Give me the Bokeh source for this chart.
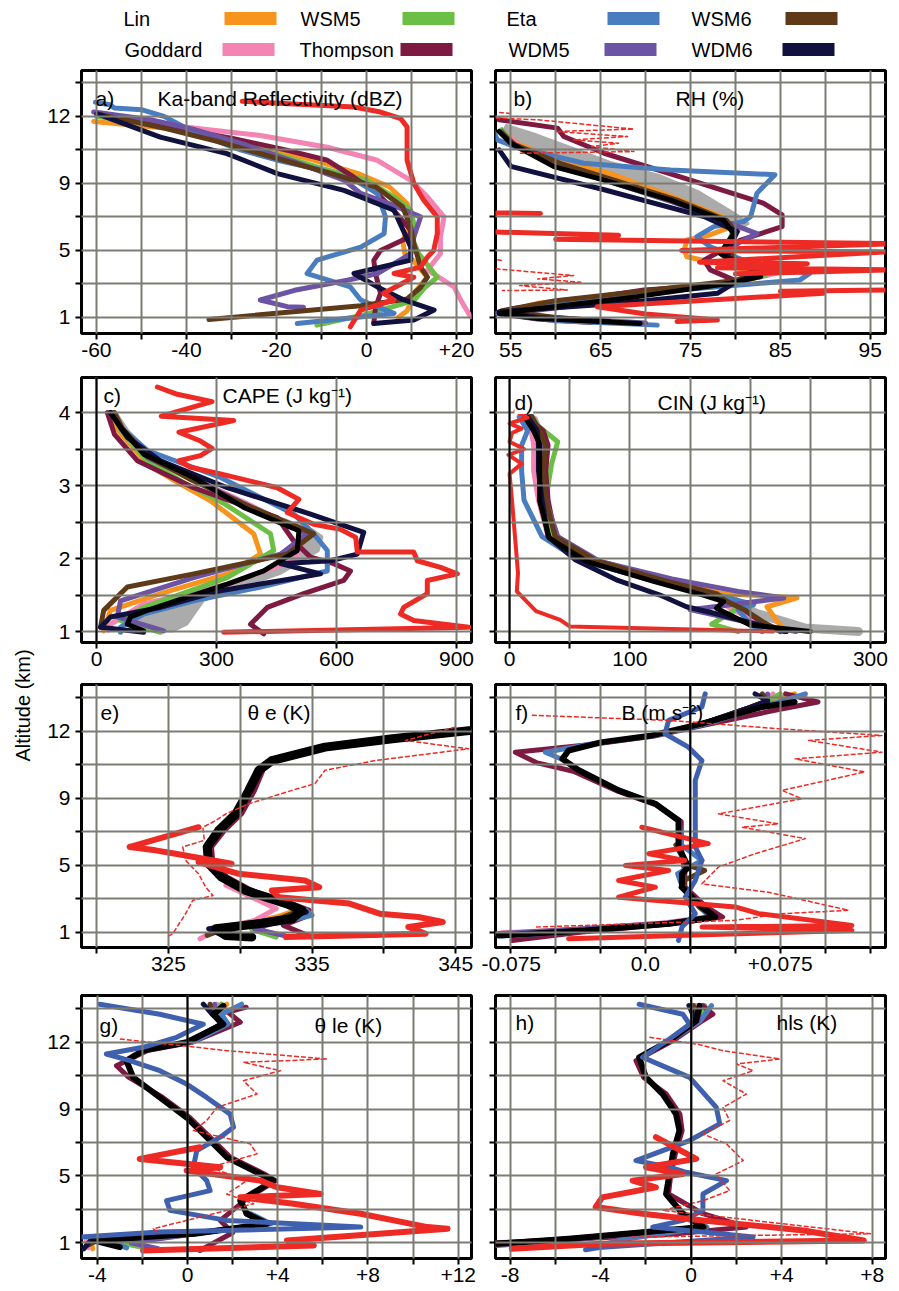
import math
import numpy as np
from bokeh.plotting import figure
from bokeh.layouts import row, column
from bokeh.models import FixedTicker, Label, Span, Range1d
from bokeh.embed import file_html
from bokeh.resources import INLINE
from bokeh.core.properties import value

nan = float("nan")
FONT = "Liberation Sans"

MODELS = ["Lin", "WSM5", "Eta", "WSM6", "Goddard", "Thompson", "WDM5", "WDM6"]
COLORS = ["#f7941d", "#6cbf45", "#4a7dc0", "#5e3a18", "#f384b4", "#7e1a42", "#6c53a3", "#111140"]
MC = dict(zip(MODELS, COLORS))
DRAW_ORDER = ["Lin", "Goddard", "WSM5", "Thompson", "Eta", "WDM5", "WSM6", "WDM6"]
RED = "#ee2a24"
BLUE2 = "#3e60ae"
GRAY = "#ababab"

# level axis (plotted level index -> altitude label in km)
lev_ticks = [0, 1, 2, 3, 4, 5, 6, 7]
lev_labels = {0: "1", 2: "5", 4: "9", 6: "12"}
km_ticks = [1, 1.5, 2, 2.5, 3, 3.5, 4]
km_labels = {1: "1", 2: "2", 3: "3", 4: "4"}

# ---------------- a) Ka-band reflectivity (dBZ) ----------------
a_x = {
    "Lin":      [-60.6, -45, -35, -25, -12, -2, 5, 9, 10, 8, 8.5, 10, 13.5, 11, 9, 7],
    "Goddard":  [-59, -48, -37, -23.6, -8.7, 2.4, 9.8, 13.5, 17.2, 16.4, 16.4, 13.5, 16, 19.4, 21, 23.1],
    "WSM5":     [-60, -45, -33, -22, -10, 0, 6, 9.8, 10.5, 10, 11.6, 15.7, 13, 10.5, 0, -11],
    "Thompson": [-59, -45, -30, -18, -8.7, -3, 2.4, 6, 9.8, 9.5, 3.1, 1.6, 2.0, 3.1, 2.0, 1.6],
    "Eta":      [-60.2, -57, -56, -50, -45, -40, -35, -28, -20, -10, -2, 2.4, 4.2, 3.9, -1.3, -11, -13.2, -3.6, -1.3, 6.1, -15.4],
    "WDM5":     [-60.6, -48, -38, -28, -15, -5, -1.3, 5, 12, 10.5, 9.8, 2.4, -4.3, -16, -23.6, -17.6, -14],
    "WSM6":     [-59, -45, -33, -20, -8, 2, 8, 9.8, 10.5, 12, 13.5, 12, 9, -1.3, -35],
    "WDM6":     [-59.9, -45.8, -31, -19.8, -5, 6.1, 9.8, 9.8, -2.8, 2.4, 8.3, 15, 10.5, 1.6],
}
a_y = {
    "Lin":      [5.85, 5.65, 5.45, 5.15, 4.7, 4.3, 3.9, 3.4, 2.8, 2.3, 1.9, 1.75, 1.2, 0.8, 0.2, 0.0],
    "Goddard":  [6.1, 5.8, 5.63, 5.43, 5.08, 4.69, 4.09, 3.6, 3.0, 2.4, 1.9, 1.41, 1.2, 0.91, 0.5, 0.02],
    "WSM5":     [6.0, 5.7, 5.4, 4.95, 4.45, 4.1, 3.6, 3.2, 2.8, 2.4, 1.9, 1.2, 0.9, 0.5, 0.1, -0.23],
    "Thompson": [6.05, 5.7, 5.35, 5.0, 4.69, 4.2, 3.7, 3.2, 2.6, 2.4, 2.0, 1.7, 1.3, 0.72, 0.3, -0.18],
    "Eta":      [6.42, 6.35, 6.25, 6.2, 6.0, 5.65, 5.35, 5.0, 4.7, 4.4, 4.05, 3.7, 3.0, 2.5, 2.1, 1.71, 1.31, 0.91, 0.52, 0.12, -0.18],
    "WDM5":     [6.13, 5.9, 5.6, 5.2, 4.6, 4.1, 3.7, 3.4, 3.0, 2.4, 1.9, 1.31, 1.11, 0.81, 0.52, 0.32, 0.3],
    "WSM6":     [6.05, 5.65, 5.25, 4.75, 4.3, 3.9, 3.3, 2.7, 2.2, 1.5, 1.2, 0.9, 0.55, 0.35, -0.06],
    "WDM6":     [6.08, 5.38, 4.89, 4.29, 3.79, 3.2, 2.1, 1.71, 1.31, 0.91, 0.52, 0.22, -0.08, -0.18],
}
a_red_x = [-27.6, -2.8, 3.1, 7.6, 9.0, 9.0, 10.5, 12.7, 15.7, 15.7, 14.9, 13.5, 12.0, 6.1, 10.5, 3.8, 6.1, -1.3, -3.6]
a_red_y = [6.45, 6.28, 6.13, 5.93, 5.68, 4.69, 4.0, 3.5, 3.0, 2.5, 2.0, 1.8, 1.5, 1.31, 1.2, 0.72, 0.52, 0.22, -0.28]

# ---------------- b) RH (%) ----------------
b_x = {
    "Lin":      [54, 56, 61, 66, 73, 78.5, 79.5, 77, 74.6, 74.3, 74.6, 81.3, 82.8, 78.7, 68, 58, 54, 60, 66],
    "Goddard":  [54, 56, 61, 66, 73, 78, 80.3, 79, 78.7, 82, 85.7, 83.5, 80, 70, 62, 56, 54, 62, 69],
    "WSM5":     [54, 55.5, 60.5, 66, 73, 78.8, 79.7, 79, 79.5, 82, 83.3, 80, 69, 58, 54, 62, 70],
    "Thompson": [53.7, 60.2, 60.9, 65.4, 74.3, 83.1, 85.2, 85.2, 82.8, 80.6, 76.5, 77.2, 79.8, 80.2, 69.8, 61.3, 55.0, 53.4, 58, 64],
    "Eta":      [53.1, 53.5, 55.4, 63.1, 72.8, 84.4, 82.4, 81.7, 80.9, 77.6, 75.7, 77.2, 80, 82.8, 88.3, 87.2, 82.8, 72, 60, 53.4, 60, 71.3],
    "WDM5":     [54, 55.2, 60, 66, 73, 78, 82.4, 80.5, 79, 80, 82.5, 80, 70, 62, 56, 54, 63, 70],
    "WSM6":     [54, 55.5, 60.5, 66.5, 73.5, 79, 80, 79, 80.5, 82.5, 80, 70, 60, 54, 60, 65],
    "WDM6":     [53.7, 55.0, 65.4, 76.5, 80.2, 79.4, 79.1, 82.8, 80, 78.0, 67.2, 53.7, 58, 66],
}
b_y = {
    "Lin":      [5.55, 5.15, 4.65, 4.3, 3.6, 3.0, 2.7, 2.45, 2.31, 2.01, 1.81, 1.42, 1.22, 0.97, 0.72, 0.42, 0.15, -0.02, -0.12],
    "Goddard":  [5.6, 5.1, 4.55, 4.1, 3.5, 2.95, 2.6, 2.2, 1.85, 1.55, 1.42, 1.25, 1.07, 0.75, 0.4, 0.2, 0.1, -0.05, -0.15],
    "WSM5":     [5.6, 5.1, 4.55, 4.05, 3.45, 2.9, 2.55, 2.1, 1.75, 1.5, 1.25, 1.05, 0.66, 0.32, 0.13, -0.08, -0.18],
    "Thompson": [5.9, 5.65, 5.4, 4.9, 4.16, 3.41, 3.06, 2.71, 2.5, 2.31, 1.71, 1.42, 1.12, 1.0, 0.82, 0.47, 0.25, 0.12, -0.05, -0.15],
    "Eta":      [5.55, 5.3, 5.1, 4.6, 4.4, 4.26, 3.71, 3.01, 2.86, 2.71, 2.41, 2.11, 1.8, 1.52, 1.32, 1.12, 1.02, 0.78, 0.45, 0.12, -0.1, -0.23],
    "WDM5":     [5.55, 5.15, 4.55, 4.05, 3.45, 2.95, 2.5, 2.25, 1.95, 1.7, 1.35, 1.07, 0.7, 0.35, 0.15, 0.1, -0.07, -0.17],
    "WSM6":     [5.5, 5.15, 4.6, 4.1, 3.5, 2.9, 2.55, 2.05, 1.6, 1.35, 1.1, 0.8, 0.5, 0.2, 0.0, -0.1],
    "WDM6":     [5.0, 4.51, 3.81, 3.01, 2.56, 2.11, 1.81, 1.32, 1.05, 0.72, 0.42, 0.17, 0.0, -0.12],
}
b_black_x = [53.7, 55, 59.8, 65.4, 72.8, 78.7, 79.8, 78.3, 79.4, 82.0, 82.8, 79.4, 69.1, 59.8, 53.7, 58.0, 69.4]
b_black_y = [5.55, 5.2, 4.5, 4.1, 3.5, 2.9, 2.5, 1.91, 1.71, 1.52, 1.22, 1.02, 0.62, 0.32, 0.12, -0.03, -0.18]
b_gray_x = [54.5, 58, 62, 66, 71.5, 76, 80, 81.5, 80, 79, 77, 72, 65, 60, 56, 54]
b_gray_y = [5.75, 5.45, 5.05, 4.65, 4.25, 3.75, 3.1, 2.8, 2.55, 2.7, 3.1, 3.55, 4.1, 4.45, 5.0, 5.5]
b_red_x = [53.3, 58.3, nan, 53.3, 67.0, 60.0, 98.2, 74.0, 96.5, 76.0, 88.0, 78.0, 96.9, 80.0, nan, 96.9, 85.0, 89.8, 64.6, 70.0, 78.0, 73.5]
b_red_y = [3.12, 3.1, nan, 2.55, 2.45, 2.33, 2.2, 2.0, 1.95, 1.65, 1.6, 1.48, 1.42, 1.3, nan, 0.82, 0.78, 0.72, 0.32, 0.1, -0.08, -0.12]
b_redthin_x = [53.7, 55.2, nan, 53.3, 58, 68.7, 60, 68.0, 62, 67, 64, 68.7, 56, nan, 53.5, 54, nan, 53.3, 55.5, 62, 58, 62.8, 56, 61.3, 54]
b_redthin_y = [6.12, 6.08, nan, 5.95, 5.9, 5.62, 5.55, 5.4, 5.3, 5.2, 5.1, 4.95, 4.9, nan, 1.72, 1.7, nan, 1.45, 1.4, 1.25, 1.15, 1.05, 0.95, 0.82, 0.8]

# ---------------- c) CAPE (J/kg), altitude km ----------------
c_x = {
    "Lin":      [35, 55, 127, 200, 285, 393, 410, 327, 160, 35, 18],
    "Goddard":  [40, 62, 130, 250, 385, 527, 493, 327, 118, 35, 30],
    "WSM5":     [40, 62, 125, 215, 320, 435, 443, 327, 118, 60, 160],
    "Thompson": [27, 45, 102, 243, 452, 493, 535, 593, 635, 618, 518, 427, 385, 418],
    "Eta":      [35, 60, 127, 310, 493, 543, 577, 577, 410, 243, 118, 60, 60],
    "WDM5":     [42, 62, 128, 250, 385, 527, 460, 243, 60, 52, 168],
    "WSM6":     [45, 65, 128, 240, 380, 543, 477, 243, 77, 18, 10],
    "WDM6":     [35, 77, 160, 327, 535, 668, 652, 585, 460, 560, 485, 310, 160, 35, 10, 118],
}
c_y = {
    "Lin":      [4.0, 3.75, 3.29, 3.05, 2.79, 2.34, 2.06, 1.79, 1.52, 1.29, 1.01],
    "Goddard":  [4.0, 3.77, 3.38, 3.08, 2.73, 2.34, 1.97, 1.65, 1.38, 1.10, 1.02],
    "WSM5":     [4.0, 3.75, 3.35, 3.05, 2.75, 2.34, 2.11, 1.74, 1.33, 1.15, 0.99],
    "Thompson": [4.0, 3.7, 3.34, 2.97, 2.56, 2.24, 2.02, 1.93, 1.83, 1.70, 1.52, 1.33, 1.10, 0.97],
    "Eta":      [4.0, 3.8, 3.48, 3.11, 2.61, 2.34, 2.11, 1.83, 1.61, 1.42, 1.24, 1.06, 0.99],
    "WDM5":     [4.0, 3.77, 3.38, 3.07, 2.71, 2.34, 2.06, 1.74, 1.42, 1.2, 1.01],
    "WSM6":     [4.0, 3.78, 3.4, 3.07, 2.72, 2.34, 2.06, 1.79, 1.61, 1.29, 1.06],
    "WDM6":     [4.0, 3.66, 3.34, 2.97, 2.61, 2.36, 2.06, 1.97, 1.93, 1.79, 1.72, 1.56, 1.33, 1.20, 1.06, 0.99],
}
c_black_x = [35, 60, 118, 243, 368, 506, 502, 460, 418, 327, 227, 127, 85, 77, 118]
c_black_y = [4.0, 3.8, 3.43, 3.11, 2.70, 2.38, 2.11, 1.97, 1.83, 1.65, 1.47, 1.29, 1.20, 1.10, 1.01]
c_gray_x = [50, 80, 140, 260, 390, 540, 565, 555, 460, 268, 227, 190, 118, 77, 85, 127, 227, 327, 418, 460, 502, 506, 368, 243, 118, 60, 35]
c_gray_y = [4.0, 3.75, 3.42, 3.08, 2.7, 2.4, 2.3, 2.1, 1.79, 1.42, 1.1, 1.0, 1.01, 1.10, 1.20, 1.29, 1.47, 1.65, 1.83, 1.97, 2.11, 2.38, 2.70, 3.11, 3.43, 3.8, 4.0]
c_red_x = [152, 202, 289, 162, 343, 206, 260, 289, 260, 206, 235, 310, 452, 506, 477, 543, 610, 648, 652, 793, 802, 860, 902, 827, 827, 768, 760, 793, 931, 318]
c_red_y = [4.35, 4.25, 4.15, 3.95, 3.89, 3.73, 3.61, 3.51, 3.41, 3.34, 3.25, 3.16, 2.97, 2.81, 2.63, 2.47, 2.40, 2.29, 2.09, 2.09, 1.97, 1.88, 1.79, 1.70, 1.52, 1.33, 1.24, 1.15, 1.06, 0.99]

# ---------------- d) CIN (J/kg), altitude km ----------------
d_x = {
    "Lin":      [14, 22, 28, 27, 30, 40, 70, 125, 178, 239, 214, 222, 230],
    "Goddard":  [12, 18, 20, 20, 24, 32, 62, 118, 165, 175, 185, 210, 225],
    "WSM5":     [15, 25, 40, 35, 30, 36, 66, 122, 170, 185, 188, 168, 190],
    "Thompson": [14, 28, 32, 30, 32, 38, 70, 125, 170, 185, 195, 210, 228],
    "Eta":      [8, 15, 10, 10, 12, 27, 58, 115, 160, 203, 190, 200, 210],
    "WDM5":     [14, 20, 26, 27, 30, 40, 75, 135, 190, 228, 200, 150, 200, 238],
    "WSM6":     [18, 25, 30, 28, 30, 38, 72, 128, 172, 180, 195, 212, 225],
    "WDM6":     [15, 23, 24, 24, 27, 32, 55, 90, 125, 147, 170, 205, 230],
}
d_y = {
    "Lin":      [3.94, 3.75, 3.55, 3.2, 2.8, 2.3, 1.98, 1.7, 1.52, 1.46, 1.34, 1.15, 1.0],
    "Goddard":  [3.94, 3.75, 3.55, 3.2, 2.8, 2.3, 1.97, 1.7, 1.52, 1.42, 1.3, 1.12, 1.0],
    "WSM5":     [3.94, 3.8, 3.6, 3.3, 2.8, 2.3, 1.98, 1.7, 1.52, 1.45, 1.3, 1.1, 1.0],
    "Thompson": [3.94, 3.75, 3.55, 3.2, 2.8, 2.3, 1.97, 1.7, 1.52, 1.42, 1.3, 1.12, 1.0],
    "Eta":      [3.94, 3.75, 3.55, 3.2, 2.8, 2.3, 1.98, 1.72, 1.55, 1.37, 1.3, 1.1, 1.0],
    "WDM5":     [3.94, 3.75, 3.55, 3.2, 2.8, 2.3, 1.96, 1.72, 1.55, 1.46, 1.4, 1.3, 1.12, 1.0],
    "WSM6":     [3.96, 3.75, 3.55, 3.2, 2.8, 2.3, 1.97, 1.7, 1.52, 1.42, 1.3, 1.12, 1.0],
    "WDM6":     [3.94, 3.75, 3.55, 3.2, 2.8, 2.3, 1.98, 1.7, 1.5, 1.34, 1.25, 1.1, 1.0],
}
d_black_x = [12.5, 20, 25, 25, 25, 33, 64, 119, 161, 178, 172, 200, 250]
d_black_y = [3.94, 3.75, 3.57, 3.2, 2.79, 2.28, 1.96, 1.69, 1.50, 1.41, 1.32, 1.09, 1.0]
d_gray_x = [20, 28, 30, 30, 36, 70, 128, 172, 188, 205, 245, 290]
d_gray_y = [3.9, 3.57, 3.2, 2.79, 2.28, 1.96, 1.69, 1.50, 1.41, 1.25, 1.05, 1.0]
d_red_x = [5, 15, 0, 10, 2, 0, 12, -1, 10, 0, 2, 5, 7, 6, 22, 42, 50, 219]
d_red_y = [4.02, 3.93, 3.85, 3.78, 3.72, 3.6, 3.5, 3.42, 3.3, 3.16, 2.8, 2.2, 1.8, 1.55, 1.28, 1.16, 1.07, 1.0]

# ---------------- e) theta-e (K) ----------------
e_x = {
    "Lin":      [330.4, 333.1, 334.0, 332.5, 329.5, 329.2],
    "Goddard":  [329.0, 330.5, 332.5, 331.0, 328.5, 327.2],
    "WSM5":     [330.4, 333.2, 334.2, 333.0, 330.8, 332.5],
    "Thompson": [346.0, 340.8, 336.2, 332.5, 331.6, 331.0, 330.1, 328.9, 328.0, 328.1, 329.1, 330.8, 333.6, 334.8, 334.5, 333.0, 335.0],
    "Eta":      [346.0, 340.5, 335.8, 332.1, 331.2, 330.5, 329.6, 328.4, 327.6, 327.7, 328.6, 330.3, 333.1, 334.6, 335.0, 333.0, 330.5],
    "WDM5":     [330.4, 333.2, 334.4, 333.4, 331.0, 333.2],
    "WSM6":     [330.4, 333.2, 334.2, 332.8, 329.0, 327.7],
    "WDM6":     [328.7, 330.4, 333.2, 334.6, 333.0, 327.8, 329.0],
}
e_y = {
    "Lin":      [1.24, 0.87, 0.66, 0.45, 0.15, -0.05],
    "Goddard":  [1.4, 1.1, 0.7, 0.35, 0.1, -0.2],
    "WSM5":     [1.24, 0.85, 0.65, 0.42, 0.08, -0.15],
    "Thompson": [6.05, 5.8, 5.55, 5.15, 4.85, 4.23, 3.53, 3.03, 2.54, 2.04, 1.64, 1.24, 0.85, 0.65, 0.45, 0.2, -0.15],
    "Eta":      [6.02, 5.77, 5.52, 5.12, 4.83, 4.23, 3.53, 3.03, 2.54, 2.04, 1.64, 1.24, 0.85, 0.65, 0.5, 0.3, 0.2],
    "WDM5":     [1.24, 0.85, 0.62, 0.4, 0.1, -0.12],
    "WSM6":     [1.24, 0.86, 0.65, 0.42, 0.12, -0.1],
    "WDM6":     [1.64, 1.24, 0.85, 0.6, 0.4, 0.1, -0.15],
}
e_black_x = [346.1, 340.6, 335.9, 332.2, 331.3, 330.6, 329.7, 328.5, 327.7, 327.8, 328.7, 330.4, 333.2, 334.3, 333.6, 331.3, 328.3, 329.0, 330.8]
e_black_y = [6.02, 5.77, 5.52, 5.12, 4.83, 4.23, 3.53, 3.03, 2.54, 2.04, 1.64, 1.24, 0.85, 0.65, 0.40, 0.25, 0.10, -0.1, -0.15]
e_red_x = [327.1, 322.7, 322.3, 324.1, 325.5, 329.4, 327.1, 329.9, 334.5, 335.5, 332.2, 332.7, 337.6, 339.7, 342.4, 344.1, 341.7, 342.9, 333.2]
e_red_y = [3.13, 2.59, 2.54, 2.44, 2.34, 2.04, 2.09, 1.74, 1.54, 1.34, 1.24, 1.04, 0.85, 0.55, 0.45, 0.30, 0.15, -0.05, -0.15]
e_redthin_x = [345, 341.5, 345.9, 339.4, 335.9, 335.2, 333.6, 330.6, 329, 328.3, 327.4, 327.5, 326, 326.2, 327.1, 327.6, 328.1, 326.7, 326.2, 325.3, 324.9]
e_redthin_y = [6.12, 5.72, 5.47, 5.12, 4.83, 4.43, 4.23, 3.83, 3.53, 3.33, 3.13, 2.74, 2.54, 2.14, 1.74, 1.34, 1.09, 0.95, 0.55, -0.05, -0.15]

# ---------------- f) buoyancy B (m s-2) ----------------
f_x = {
    "Lin":      [0.083, 0.07, 0.058, 0.032, nan, 0.021, 0.032, 0.041, 0.014, -0.034, -0.08],
    "Goddard":  [0.071, 0.068, 0.058, 0.032, nan, 0.021, 0.03, 0.037, 0.01, -0.04, -0.08],
    "WSM5":     [0.075, 0.068, 0.058, 0.032, nan, 0.021, 0.031, 0.039, 0.013, -0.034, -0.082],
    "Thompson": [0.078, 0.096, 0.072, 0.035, 0.005, -0.03, -0.0722, -0.06, -0.04, -0.015, 0.006, 0.02, 0.02, 0.022, 0.022, 0.034, 0.043, 0.015, -0.035, -0.074],
    "Eta":      [0.089, 0.07, 0.033, 0.004, -0.026, -0.0556, -0.046, -0.036, -0.014, 0.006, 0.019, 0.02, 0.0315, 0.018, 0.021, 0.03, 0.036, 0.012, -0.03, -0.08],
    "WDM5":     [0.068, 0.068, 0.058, 0.032, nan, 0.02, 0.032, 0.038, 0.012, -0.035, -0.082],
    "WSM6":     [0.065, 0.068, 0.058, 0.032, nan, 0.017, 0.023, 0.033, 0.02, 0.03, 0.038, 0.013, -0.033, -0.08],
    "WDM6":     [0.061, 0.068, 0.058, 0.032, nan, 0.02, 0.031, 0.039, 0.013, -0.033, -0.081],
}
f_y = {
    "Lin":      [7.11, 6.9, 6.7, 6.22, nan, 1.34, 0.76, 0.46, 0.26, 0.06, -0.1],
    "Goddard":  [7.11, 6.9, 6.7, 6.22, nan, 1.34, 0.77, 0.47, 0.27, 0.08, -0.02],
    "WSM5":     [7.11, 6.9, 6.7, 6.22, nan, 1.34, 0.75, 0.45, 0.25, 0.05, -0.08],
    "Thompson": [7.11, 6.87, 6.62, 6.2, 5.85, 5.6, 5.37, 5.05, 4.8, 4.2, 3.8, 3.3, 2.5, 1.75, 1.35, 0.75, 0.45, 0.25, 0.0, -0.25],
    "Eta":      [7.11, 6.8, 6.2, 5.85, 5.65, 5.37, 5.15, 4.82, 4.22, 3.82, 3.3, 2.6, 2.14, 1.74, 1.3, 0.75, 0.45, 0.25, 0.05, -0.12],
    "WDM5":     [7.11, 6.9, 6.7, 6.22, nan, 1.34, 0.75, 0.45, 0.27, 0.1, -0.05],
    "WSM6":     [7.11, 6.9, 6.7, 6.22, nan, 2.6, 2.0, 1.84, 1.5, 0.75, 0.45, 0.25, 0.05, -0.1],
    "WDM6":     [7.11, 6.9, 6.7, 6.22, nan, 1.34, 0.75, 0.45, 0.25, 0.05, -0.1],
}
f_black_x = [0.083, 0.065, 0.0315, 0.0037, -0.024, -0.0426, -0.046, -0.037, -0.0148, 0.0056, 0.0185, 0.0185, 0.024, 0.0204, 0.0204, 0.0315, 0.0389, 0.013, -0.0333, -0.0815]
f_black_y = [6.87, 6.72, 6.22, 5.87, 5.67, 5.42, 5.17, 4.83, 4.23, 3.83, 3.33, 2.54, 1.94, 1.74, 1.34, 0.75, 0.45, 0.25, 0.05, -0.1]
f_blue2_x = [0.0333, 0.0315, 0.013, 0.011, 0.024, 0.0315, 0.0278, 0.0278, 0.0278, 0.0315, 0.0278, 0.0222, 0.0278, 0.0204, 0.0185]
f_blue2_y = [7.11, 6.72, 6.32, 5.92, 5.52, 5.12, 4.53, 3.53, 2.54, 2.14, 1.54, 1.04, 0.55, 0.15, -0.25]
f_red_x = [-0.0019, 0.035, 0.0019, 0.022, -0.011, 0.013, -0.0148, 0.0056, -0.0148, 0.05, 0.063, 0.1148, 0.0315, 0.1148, -0.0426]
f_red_y = [3.13, 2.64, 2.34, 2.14, 1.99, 1.84, 1.54, 1.34, 1.04, 0.75, 0.55, 0.2, 0.15, 0.05, -0.2]
f_redthin_x = [-0.063, 0.013, 0.074, 0.1315, 0.0907, 0.1315, 0.0833, 0.122, 0.076, 0.087, 0.0407, 0.074, 0.0537, 0.089, 0.061, 0.0407, 0.0315, 0.0685, 0.113, 0.076, 0.05, -0.061]
f_redthin_y = [6.47, 6.32, 6.07, 5.87, 5.72, 5.37, 5.17, 4.78, 4.23, 3.98, 3.53, 3.23, 3.13, 2.79, 2.34, 1.94, 1.44, 1.19, 0.65, 0.55, 0.35, 0.15]

# ---------------- g) theta-le (K) ----------------
g_x = {
    "Lin":      [1.74, 1.3, 1.6, 0.2, nan, 2.7, 3.6, 0.3, -4.3, -4.2],
    "Goddard":  [1.3, 1.2, 1.6, 0.1, nan, 2.6, 3.5, 0.2, -4.5, -4.4],
    "WSM5":     [1.5, 1.2, 1.6, 0.1, nan, 2.7, 3.5, 0.4, -3.0, -1.5],
    "Thompson": [2.6, 1.8, 2.34, 0.2, -1.8, -3.15, -2.6, -1.1, 0.1, 1.0, 1.9, 3.4, 3.9, 2.6, 1.45, 2.0, 0.55],
    "Eta":      [2.4, 1.5, 1.8, 0.2, nan, 2.8, 3.7, 0.5, -3.5, -2.7],
    "WDM5":     [1.2, 1.2, 1.6, 0.1, nan, 2.6, 3.5, 0.3, -2.5, -1.3],
    "WSM6":     [1.0, 1.1, 1.55, 0.05, nan, 2.7, 3.6, 0.3, -4.0, -4.5],
    "WDM6":     [0.7, 1.1, 1.5, 0.0, nan, 2.6, 3.5, 0.2, -4.3, -4.6],
}
g_y = {
    "Lin":      [7.14, 6.84, 6.55, 6.0, nan, 0.87, 0.57, 0.27, 0.07, -0.18],
    "Goddard":  [7.14, 6.84, 6.55, 6.0, nan, 0.87, 0.57, 0.27, 0.05, -0.15],
    "WSM5":     [7.14, 6.84, 6.55, 6.0, nan, 0.87, 0.57, 0.27, 0.0, -0.2],
    "Thompson": [7.05, 6.9, 6.6, 6.0, 5.75, 5.3, 4.95, 4.35, 3.75, 3.16, 2.56, 2.06, 1.86, 1.3, 0.67, 0.3, -0.23],
    "Eta":      [7.14, 6.84, 6.55, 6.0, nan, 0.87, 0.57, 0.27, 0.05, -0.15],
    "WDM5":     [7.14, 6.84, 6.55, 6.0, nan, 0.87, 0.57, 0.27, 0.0, -0.18],
    "WSM6":     [7.14, 6.84, 6.55, 6.0, nan, 0.87, 0.57, 0.27, 0.07, -0.1],
    "WDM6":     [7.14, 6.84, 6.55, 6.0, nan, 0.87, 0.57, 0.27, 0.07, -0.18],
}
g_black_x = [1.59, 1.15, 1.59, -0.04, -1.97, -2.71, -2.41, -1.23, -0.04, 0.85, 1.74, 3.23, 3.82, 2.34, 2.63, 3.52, 0.26, -4.19, -3.0]
g_black_y = [7.09, 6.84, 6.54, 6.0, 5.75, 5.45, 4.95, 4.35, 3.75, 3.16, 2.56, 2.06, 1.86, 1.26, 0.87, 0.57, 0.27, 0.07, -0.13]
g_blue2_x = [-3.9, -1.23, 0.7, -0.48, -1.97, -3.6, -2.56, -1.23, -0.04, 0.85, 1.89, 2.04, 1.45, 0.41, 0.26, 0.85, 1.0, -0.93, -0.78, 1.74, 7.68, -1.23, -4.79]
g_blue2_y = [7.14, 6.84, 6.54, 6.15, 5.85, 5.65, 5.45, 5.15, 4.75, 4.35, 3.85, 3.46, 3.16, 2.76, 2.26, 1.86, 1.56, 1.26, 0.97, 0.67, 0.47, 0.32, 0.17]
g_red_x = [0.55, -2.12, 1.45, -0.04, 3.23, 3.97, 5.9, 2.34, 4.71, 7.68, 10.64, 11.53, 4.41, 5.6, -1.97]
g_red_y = [2.86, 2.51, 2.26, 2.16, 1.86, 1.66, 1.46, 1.36, 1.17, 0.87, 0.47, 0.42, 0.07, -0.08, -0.23]
g_redthin_x = [-3.0, 1.74, 6.19, 2.48, 4.12, 2.48, 3.08, 1.3, 0.85, 0.26, 2.78, 3.08, 1.0, 2.63, 1.74, 2.93, -1.52, -1.23]
g_redthin_y = [6.1, 5.75, 5.5, 5.4, 5.15, 4.85, 4.45, 4.05, 3.66, 3.36, 2.96, 2.66, 2.26, 1.86, 1.46, 1.17, 0.42, 0.27]

# ---------------- h) hls (K) ----------------
h_x = {
    "Lin":      [0.5, 0.3, -0.9, nan, -0.4, 0.6, -5.0, -8.6],
    "Goddard":  [0.2, 0.2, -0.9, nan, -0.5, 0.4, -5.5, -8.65],
    "WSM5":     [0.6, 0.3, -0.9, nan, -0.4, 0.5, -5.2, -8.6],
    "Thompson": [0.5, 0.96, 0.4, -0.8, -2.44, -2.1, -1.1, -0.5, -0.4, -0.7, -0.9, -1.0, 0.52, 2.44, -1.0, -8.6],
    "Eta":      [0.9, 0.4, -0.9, nan, -0.3, 0.7, -3.0, -4.5],
    "WDM5":     [0.4, 0.3, -0.9, nan, -0.5, 0.5, -5.4, -8.6],
    "WSM6":     [0.1, 0.2, -0.95, nan, -0.4, 0.6, -5.3, -8.6],
    "WDM6":     [-0.1, 0.2, -0.95, nan, -0.4, 0.5, -5.4, -8.6],
}
h_y = {
    "Lin":      [7.1, 6.64, 6.05, nan, 0.87, 0.47, 0.12, -0.05],
    "Goddard":  [7.1, 6.64, 6.05, nan, 0.87, 0.47, 0.1, 0.0],
    "WSM5":     [7.1, 6.64, 6.05, nan, 0.87, 0.47, 0.1, -0.03],
    "Thompson": [7.1, 6.84, 6.6, 6.05, 5.45, 4.95, 4.45, 3.85, 3.36, 2.66, 2.06, 1.46, 0.87, 0.47, 0.25, 0.0],
    "Eta":      [7.1, 6.64, 6.05, nan, 0.87, 0.47, 0.1, -0.15],
    "WDM5":     [7.1, 6.64, 6.05, nan, 0.87, 0.47, 0.08, -0.08],
    "WSM6":     [7.1, 6.64, 6.05, nan, 0.87, 0.47, 0.12, -0.05],
    "WDM6":     [7.1, 6.64, 6.05, nan, 0.87, 0.47, 0.12, -0.03],
}
h_black_x = [0.37, 0.22, -0.96, -2.3, -2.0, -1.26, -0.67, -0.52, -0.81, -0.96, -1.11, -0.37, 0.52, -5.41, -8.67]
h_black_y = [7.09, 6.64, 6.05, 5.55, 4.95, 4.45, 3.85, 3.36, 2.66, 2.06, 1.46, 0.87, 0.47, 0.12, -0.03]
h_blue2_x = [-2.3, -0.37, -0.07, -0.96, -2.15, -1.11, -0.07, 1.11, 1.26, -0.07, -1.26, -2.44, -0.96, -0.22, 1.56, 0.52, 0.52, -0.37, -1.7, 2.74, -3.93, -4.67]
h_blue2_y = [7.14, 6.84, 6.54, 6.1, 5.55, 5.25, 4.95, 4.05, 3.56, 3.06, 2.76, 2.46, 2.26, 2.11, 1.86, 1.46, 0.97, 0.67, 0.47, 0.17, -0.13, -0.21]
h_red_x = [-1.56, 0.22, -2.0, -0.37, -2.59, -1.56, -3.93, -4.22, -2.15, 0.52, 4.96, 7.63, -3.93, -7.93]
h_red_y = [3.16, 2.51, 2.26, 2.06, 1.86, 1.66, 1.36, 1.07, 0.87, 0.67, 0.37, 0.07, -0.03, -0.18]
h_redthin_x = [-1.85, 0.22, 1.41, 3.93, 2.0, 2.74, 1.41, 2.44, 1.41, 1.7, 0.52, 1.56, 2.3, 1.11, 1.7, 0.52, -1.26, 2.74, 7.93, -2.74]
h_redthin_y = [6.15, 5.95, 5.75, 5.5, 5.35, 5.15, 4.85, 4.45, 4.05, 3.66, 3.26, 2.96, 2.46, 2.06, 1.56, 1.26, 0.97, 0.67, 0.27, 0.17]

# ---------------- helpers ----------------
FW = 390
GRID = "#7c7c74"
MW = 5  # model line width


def make_panel(xr, yr, xticks, xlab, yticks, ylab, fh, left, right, top, bottom):
    p = figure(frame_width=FW, frame_height=fh, x_range=Range1d(*xr), y_range=Range1d(*yr),
               output_backend="svg", toolbar_location=None,
               min_border_left=left, min_border_right=right,
               min_border_top=top, min_border_bottom=bottom)
    p.xaxis.ticker = FixedTicker(ticks=xticks, minor_ticks=[])
    p.xaxis.major_label_overrides = {t: xlab.get(t, "") for t in xticks}
    p.yaxis.ticker = FixedTicker(ticks=yticks, minor_ticks=[])
    p.yaxis.major_label_overrides = {t: ylab.get(t, "") for t in yticks}
    for ax in (p.xaxis[0], p.yaxis[0]):
        ax.axis_line_color = None
        ax.major_tick_line_color = "black"
        ax.major_tick_line_width = 2
        ax.major_tick_out = 6
        ax.major_tick_in = 0
        ax.minor_tick_line_color = None
        ax.major_label_text_font = FONT
        ax.major_label_text_font_size = "21px"
        ax.major_label_text_color = "black"
    p.xaxis.major_label_standoff = 3
    p.yaxis.major_label_standoff = 5
    for g in p.grid:
        g.grid_line_color = GRID
        g.grid_line_width = 2
        g.level = "guide"
    p.outline_line_color = "black"
    p.outline_line_width = 3
    p.background_fill_color = "white"
    p.border_fill_color = "white"
    return p


def L(p, xs, ys, color, width, dash="solid", cap="round"):
    p.line(np.array(xs, float), np.array(ys, float), line_color=color, line_width=width,
           line_dash=dash, line_join="round", line_cap=cap)


def models(p, xd, yd, width=MW):
    for m in DRAW_ORDER:
        if m in xd:
            L(p, xd[m], yd[m], MC[m], width)


def put(p, xr, yr, fh, dx, dy, text, bg=None):
    x = xr[0] + dx / FW * (xr[1] - xr[0])
    y = yr[1] - dy / fh * (yr[1] - yr[0])
    lab = Label(x=x, y=y, text=text, text_font=FONT, text_font_size="21px",
                text_baseline="middle", text_align="left", text_color="black")
    if bg:
        lab.background_fill_color = bg
        lab.background_fill_alpha = 1.0
    p.add_layout(lab)


def vline(p, loc):
    p.add_layout(Span(location=loc, dimension="height", line_color="black", line_width=2))


def fmt_signed(v):
    return ("+%g" % v) if v > 0 else ("%g" % v)


# ---------------- panels ----------------
STRIP_W = 40
LB, RA, LBb, RBb = 81 - STRIP_W, 10, 14, 14

# a
xr = (-63.3, 23.3); yr = (-0.48, 7.37)
xt = list(range(-60, 21, 10))
pa = make_panel(xr, yr, xt, {v: fmt_signed(v) for v in [-60, -40, -20, 0, 20]}, lev_ticks, lev_labels, 263, LB, RA, 10, 37)
models(pa, a_x, a_y)
L(pa, a_red_x, a_red_y, RED, 5)
put(pa, xr, yr, 263, 14, 28, "a)")
put(pa, xr, yr, 263, 76, 28, "Ka-band Reflectivity (dBZ)")

# b
xrb = (53.3, 96.7)
pb = make_panel(xrb, yr, list(range(55, 96, 5)), {v: str(v) for v in [55, 65, 75, 85, 95]}, lev_ticks, {}, 263, LBb, RBb, 10, 37)
pb.patch(np.array(b_gray_x, float), np.array(b_gray_y, float), fill_color=GRAY, line_color=GRAY, line_width=2)
models(pb, b_x, b_y)
L(pb, b_black_x, b_black_y, "black", 5)
L(pb, b_red_x, b_red_y, RED, 5)
L(pb, b_redthin_x, b_redthin_y, RED, 1.5, "5 2", "butt")
put(pb, xrb, yr, 263, 18, 28, "b)")
put(pb, xrb, yr, 263, 180, 28, "RH (%)")

# c
xrc = (-37.5, 937.5); yrc = (0.85, 4.48)
pc = make_panel(xrc, yrc, [0, 300, 600, 900], {v: str(v) for v in [0, 300, 600, 900]}, km_ticks, km_labels, 265, LB, RA, 7, 36)
vline(pc, 0)
pc.patch(np.array(c_gray_x, float), np.array(c_gray_y, float), fill_color=GRAY, line_color=GRAY, line_width=2)
models(pc, c_x, c_y)
L(pc, c_black_x, c_black_y, "black", 5)
L(pc, c_red_x, c_red_y, RED, 5)
put(pc, xrc, yrc, 265, 22, 18, "c)")
put(pc, xrc, yrc, 265, 141, 18, "CAPE (J kg\u207b\u00b9)")

# d
xrd = (-11.7, 312.5)
pd_ = make_panel(xrd, yrc, list(range(0, 301, 50)), {v: str(v) for v in [0, 100, 200, 300]}, km_ticks, {}, 265, LBb, RBb, 7, 36)
vline(pd_, 0)
L(pd_, d_gray_x, d_gray_y, GRAY, 9)
models(pd_, d_x, d_y)
L(pd_, d_black_x, d_black_y, "black", 5)
L(pd_, d_red_x, d_red_y, RED, 4)
put(pd_, xrd, yrc, 265, 19, 25, "d)", bg="white")
put(pd_, xrd, yrc, 265, 162, 25, "CIN (J kg\u207b\u00b9)")

# e
xre = (318.95, 346.1); yre = (-0.46, 7.39)
pe = make_panel(xre, yre, list(range(320, 346, 5)), {325: "325", 335: "335", 345: "345"}, lev_ticks, lev_labels, 263, LB, RA, 6, 37)
models(pe, e_x, e_y, 5)
L(pe, e_black_x, e_black_y, "black", 9)
L(pe, e_red_x, e_red_y, RED, 6)
L(pe, e_redthin_x, e_redthin_y, RED, 1.5, "5 2", "butt")
put(pe, xre, yre, 263, 19, 28, "e)")
put(pe, xre, yre, 263, 166, 28, "\u03b8 e (K)")

# f
xrf = (-0.0832, 0.1335)
ft = [round(-0.075 + 0.025 * i, 3) for i in range(9)]
pf = make_panel(xrf, yre, ft, {-0.075: "-0.075", 0.0: "0.0", 0.075: "+0.075"}, lev_ticks, {}, 263, LBb, RBb, 6, 37)
vline(pf, 0.025)
models(pf, f_x, f_y, 5)
L(pf, f_black_x, f_black_y, "black", 6)
L(pf, f_blue2_x, f_blue2_y, BLUE2, 5)
L(pf, f_red_x, f_red_y, RED, 5)
L(pf, f_redthin_x, f_redthin_y, RED, 1.5, "5 2", "butt")
put(pf, xrf, yre, 263, 20, 28, "f)")
put(pf, xrf, yre, 263, 126, 28, "B (m s\u207b\u00b2)")

# g
xrg = (-4.70, 12.59); yrg = (-0.47, 7.40)
pg = make_panel(xrg, yrg, list(range(-4, 13, 2)), {v: fmt_signed(v) for v in [-4, 0, 4, 8, 12]}, lev_ticks, lev_labels, 263, LB, RA, 11, 33)
vline(pg, 0)
models(pg, g_x, g_y, 5)
L(pg, g_black_x, g_black_y, "black", 6)
L(pg, g_blue2_x, g_blue2_y, BLUE2, 5)
L(pg, g_red_x, g_red_y, RED, 6)
L(pg, g_redthin_x, g_redthin_y, RED, 1.5, "5 2", "butt")
put(pg, xrg, yrg, 263, 18, 30, "g)")
put(pg, xrg, yrg, 263, 233, 30, "\u03b8  le (K)")

# h
xrh = (-8.65, 8.59)
ph = make_panel(xrh, yrg, list(range(-8, 9, 2)), {v: fmt_signed(v) for v in [-8, -4, 0, 4, 8]}, lev_ticks, {}, 263, LBb, RBb, 11, 33)
vline(ph, 0)
models(ph, h_x, h_y, 5)
L(ph, h_black_x, h_black_y, "black", 6)
L(ph, h_blue2_x, h_blue2_y, BLUE2, 5)
L(ph, h_red_x, h_red_y, RED, 6)
L(ph, h_redthin_x, h_redthin_y, RED, 1.5, "5 2", "butt")
put(ph, xrh, yrg, 263, 20, 27, "h)")
put(ph, xrh, yrg, 263, 281, 27, "hls (K)")

# ---------------- legend strip (top) ----------------
leg_text_x = [123, 300, 506, 691, 124, 299, 508, 691]
leg_sw_x = [224, 402, 607, 785, 222, 400, 604, 782]
leg_row_y = [42, 42, 42, 42, 11, 11, 11, 11]
leg = figure(width=899, height=60, x_range=Range1d(0, 899), y_range=Range1d(0, 60),
             output_backend="svg", toolbar_location=None, min_border=0,
             x_axis_type=None, y_axis_type=None)
leg.outline_line_color = None
leg.quad(left=leg_sw_x, right=[v + 52 for v in leg_sw_x],
         bottom=[v - 6.5 for v in leg_row_y], top=[v + 6.5 for v in leg_row_y],
         fill_color=COLORS, line_color=None)
leg.text(x=leg_text_x, y=leg_row_y, text=MODELS, text_font=value(FONT), text_font_size="20px",
         text_baseline="middle", text_align="left", text_color="black")

# ---------------- y label strip (left) ----------------
strip = figure(width=STRIP_W, height=1231, x_range=Range1d(0, STRIP_W), y_range=Range1d(0, 1231),
               output_backend="svg", toolbar_location=None, min_border=0,
               x_axis_type=None, y_axis_type=None)
strip.outline_line_color = None
strip.text(x=[22], y=[1231 - 645], text=["Altitude (km)"], angle=math.pi / 2,
           text_font=value(FONT), text_font_size="20px", text_align="center",
           text_baseline="middle", text_color="black")

layout = column(leg, row(strip, column(row(pa, pb), row(pc, pd_), row(pe, pf), row(pg, ph))))

open("out.html", "w").write(file_html(layout, INLINE))
